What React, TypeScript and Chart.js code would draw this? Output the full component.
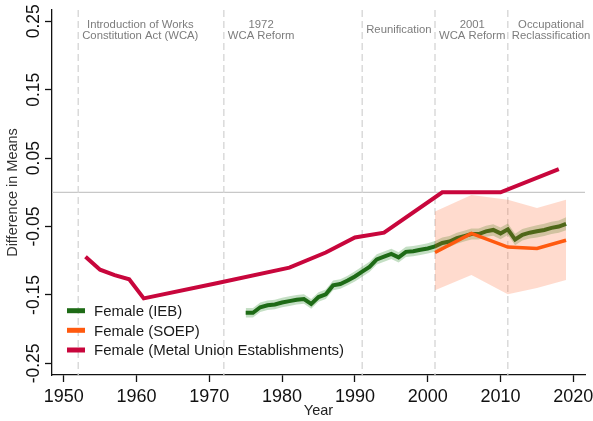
import React, { useEffect, useRef } from "react";
import { Chart, registerables } from "chart.js";

Chart.register(...registerables);

// ---- data ----
const xTicks = [1950, 1960, 1970, 1980, 1990, 2000, 2010, 2020];
const yTicks = [-0.25, -0.15, -0.05, 0.05, 0.15, 0.25];
const yTickLabels = ["-0.25", "-0.15", "-0.05", "0.05", "0.15", "0.25"];

const metalYears = [1953, 1955, 1957, 1959, 1961, 1971, 1981, 1986, 1990, 1994, 2002, 2010, 2018];
const metalValues = [-0.094, -0.113, -0.121, -0.127, -0.155, -0.133, -0.110, -0.088, -0.066, -0.059, 0.0, 0.0, 0.034];

const soepYears = [2001, 2006, 2011, 2015, 2019];
const soepValues = [-0.088, -0.060, -0.080, -0.082, -0.070];
const soepUpper = [-0.028, -0.004, -0.011, -0.023, -0.011];
const soepLower = [-0.143, -0.121, -0.149, -0.140, -0.128];

const iebYears = [
  1975, 1976, 1977, 1978, 1979, 1980, 1981, 1982, 1983, 1984, 1985, 1986, 1987, 1988, 1989,
  1990, 1991, 1992, 1993, 1994, 1995, 1996, 1997, 1998, 1999, 2000, 2001, 2002, 2003, 2004,
  2005, 2006, 2007, 2008, 2009, 2010, 2011, 2012, 2013, 2014, 2015, 2016, 2017, 2018, 2019,
];
const iebValues = [
  -0.176, -0.176, -0.168, -0.165, -0.164, -0.161, -0.159, -0.157, -0.156, -0.163, -0.153, -0.149, -0.136, -0.134, -0.129,
  -0.123, -0.116, -0.109, -0.098, -0.094, -0.090, -0.095, -0.087, -0.086, -0.084, -0.082, -0.079, -0.074, -0.072, -0.067,
  -0.064, -0.061, -0.061, -0.057, -0.055, -0.060, -0.054, -0.069, -0.062, -0.059, -0.057, -0.055, -0.052, -0.050, -0.046,
];
const iebHalfWidth = [
  0.007, 0.007, 0.007, 0.007, 0.007, 0.007, 0.007, 0.007, 0.007, 0.007, 0.007, 0.007, 0.007, 0.007, 0.007,
  0.0075, 0.0075, 0.0075, 0.0075, 0.0075, 0.0075, 0.0075, 0.0075, 0.0075, 0.0075, 0.0075, 0.008, 0.008, 0.008, 0.008,
  0.008, 0.008, 0.008, 0.008, 0.0085, 0.0085, 0.0085, 0.0085, 0.0085, 0.0085, 0.009, 0.009, 0.009, 0.009, 0.0095,
];

const eventYears = [1952, 1972, 1991, 2001, 2011];
const eventLabels = [
  ["Introduction of Works", "Constitution Act (WCA)"],
  ["1972", "WCA Reform"],
  ["Reunification"],
  ["2001", "WCA Reform"],
  ["Occupational", "Reclassification"],
];

const legendLabels = ["Female (IEB)", "Female (SOEP)", "Female (Metal Union Establishments)"];

// ---- styles ----
const RED = "#c8063c";
const GREEN = "#1e6b16";
const ORANGE = "#ff5a0f";
const GREEN_BAND = "rgba(60,150,60,0.30)";
const ORANGE_BAND = "rgba(255,90,30,0.22)";
const FONT = '"Liberation Sans", Arial, Helvetica, sans-serif';

const pts = (xs: number[], ys: number[]) => xs.map((x, i) => ({ x, y: ys[i] }));

const overlayPlugin = {
  id: "overlay",
  beforeDatasetsDraw(chart: any) {
    const { ctx, chartArea, scales } = chart;
    const xs = scales.x;
    const ys = scales.y;
    ctx.save();
    const y0 = ys.getPixelForValue(0);
    ctx.strokeStyle = "#c8c8c8";
    ctx.lineWidth = 1.3;
    ctx.beginPath();
    ctx.moveTo(chartArea.left, y0);
    ctx.lineTo(chartArea.right, y0);
    ctx.stroke();
    ctx.strokeStyle = "#d4d4d4";
    ctx.setLineDash([7, 4]);
    eventYears.forEach((yr) => {
      const px = xs.getPixelForValue(yr);
      ctx.beginPath();
      ctx.moveTo(px, chartArea.top);
      ctx.lineTo(px, chartArea.bottom);
      ctx.stroke();
    });
    ctx.restore();
  },
  afterDraw(chart: any) {
    const { ctx, chartArea, scales } = chart;
    const xs = scales.x;
    const ys = scales.y;
    ctx.save();
    ctx.font = `11.3px ${FONT}`;
    ctx.fillStyle = "#7c7c7c";
    ctx.textAlign = "center";
    ctx.textBaseline = "alphabetic";
    eventYears.forEach((yr, i) => {
      const lines = eventLabels[i];
      const x0 = xs.getPixelForValue(yr) + 4;
      const maxW = Math.max(...lines.map((l) => ctx.measureText(l).width));
      const cx = x0 + maxW / 2;
      if (lines.length === 1) {
        ctx.fillText(lines[0], cx, 33.2);
      } else {
        ctx.fillText(lines[0], cx, 28.2);
        ctx.fillText(lines[1], cx, 38.9);
      }
    });
    ctx.font = `18px ${FONT}`;
    ctx.fillStyle = "#111";
    ctx.textAlign = "center";
    xTicks.forEach((t) => {
      ctx.fillText(String(t), xs.getPixelForValue(t), 402);
    });
    ctx.font = `14.5px ${FONT}`;
    ctx.fillStyle = "#222";
    ctx.fillText("Year", (chartArea.left + chartArea.right) / 2, 415);
    ctx.font = `17.5px ${FONT}`;
    ctx.fillStyle = "#111";
    yTicks.forEach((t, i) => {
      ctx.save();
      ctx.translate(38.5, ys.getPixelForValue(t));
      ctx.rotate(-Math.PI / 2);
      ctx.textAlign = "center";
      ctx.fillText(yTickLabels[i], 0, 0);
      ctx.restore();
    });
    ctx.save();
    ctx.font = `14.5px ${FONT}`;
    ctx.fillStyle = "#333";
    ctx.translate(16.5, (chartArea.top + chartArea.bottom) / 2);
    ctx.rotate(-Math.PI / 2);
    ctx.textAlign = "center";
    ctx.fillText("Difference in Means", 0, 0);
    ctx.restore();
    const legendColors = [GREEN, ORANGE, RED];
    const legendY = [310.7, 330.3, 350];
    ctx.font = `15px ${FONT}`;
    ctx.textAlign = "left";
    legendLabels.forEach((lab, i) => {
      ctx.strokeStyle = legendColors[i];
      ctx.lineWidth = 5;
      ctx.beginPath();
      ctx.moveTo(67, legendY[i]);
      ctx.lineTo(85, legendY[i]);
      ctx.stroke();
      ctx.fillStyle = "#1a1a1a";
      ctx.fillText(lab, 94, legendY[i] + 5.2);
    });
    ctx.restore();
  },
};

export default function App() {
  const ref = useRef<HTMLCanvasElement | null>(null);

  useEffect(() => {
    if (!ref.current) return;
    const iebUpper = iebValues.map((v, i) => v + iebHalfWidth[i]);
    const iebLower = iebValues.map((v, i) => v - iebHalfWidth[i]);
    const lineBase = { pointRadius: 0, pointHoverRadius: 0, tension: 0, fill: false };
    const chart = new Chart(ref.current, {
      type: "line",
      data: {
        datasets: [
          { ...lineBase, data: pts(metalYears, metalValues), borderColor: RED, borderWidth: 4, order: 0 },
          { ...lineBase, data: pts(soepYears, soepValues), borderColor: ORANGE, borderWidth: 3.5, order: 1 },
          {
            ...lineBase,
            data: pts(soepYears, soepUpper),
            borderColor: "transparent",
            borderWidth: 0,
            fill: "+1",
            backgroundColor: ORANGE_BAND,
            order: 2,
          },
          { ...lineBase, data: pts(soepYears, soepLower), borderColor: "transparent", borderWidth: 0, order: 2 },
          { ...lineBase, data: pts(iebYears, iebValues), borderColor: GREEN, borderWidth: 4, order: 3 },
          {
            ...lineBase,
            data: pts(iebYears, iebUpper),
            borderColor: "transparent",
            borderWidth: 0,
            fill: "+1",
            backgroundColor: GREEN_BAND,
            order: 4,
          },
          { ...lineBase, data: pts(iebYears, iebLower), borderColor: "transparent", borderWidth: 0, order: 4 },
        ],
      },
      options: {
        responsive: false,
        animation: false,
        events: [],
        layout: { padding: { top: 10, right: 8, left: 0, bottom: 0 } },
        plugins: {
          legend: { display: false },
          tooltip: { enabled: false },
          title: { display: false },
        },
        scales: {
          x: {
            type: "linear",
            min: 1948.4,
            max: 2021.6,
            afterBuildTicks: (s: any) => {
              s.ticks = xTicks.map((v) => ({ value: v }));
            },
            afterFit: (s: any) => {
              s.height = 46;
            },
            ticks: { display: false },
            grid: {
              display: true,
              drawOnChartArea: false,
              drawTicks: true,
              tickLength: 7,
              tickColor: "#111",
              tickWidth: 1.3,
            },
            border: { display: true, color: "#111", width: 1.3 },
          },
          y: {
            type: "linear",
            min: -0.267,
            max: 0.2665,
            afterBuildTicks: (s: any) => {
              s.ticks = yTicks.map((v) => ({ value: v }));
            },
            afterFit: (s: any) => {
              s.width = 52;
            },
            ticks: { display: false },
            grid: {
              display: true,
              drawOnChartArea: false,
              drawTicks: true,
              tickLength: 7,
              tickColor: "#111",
              tickWidth: 1.3,
            },
            border: { display: true, color: "#111", width: 1.3 },
          },
        },
      } as any,
      plugins: [overlayPlugin],
    });
    return () => chart.destroy();
  }, []);

  return (
    <div style={{ position: "absolute", left: 0, top: 0, width: 593, height: 421, background: "#fff" }}>
      <canvas ref={ref} width={593} height={421} style={{ display: "block" }} />
    </div>
  );
}
